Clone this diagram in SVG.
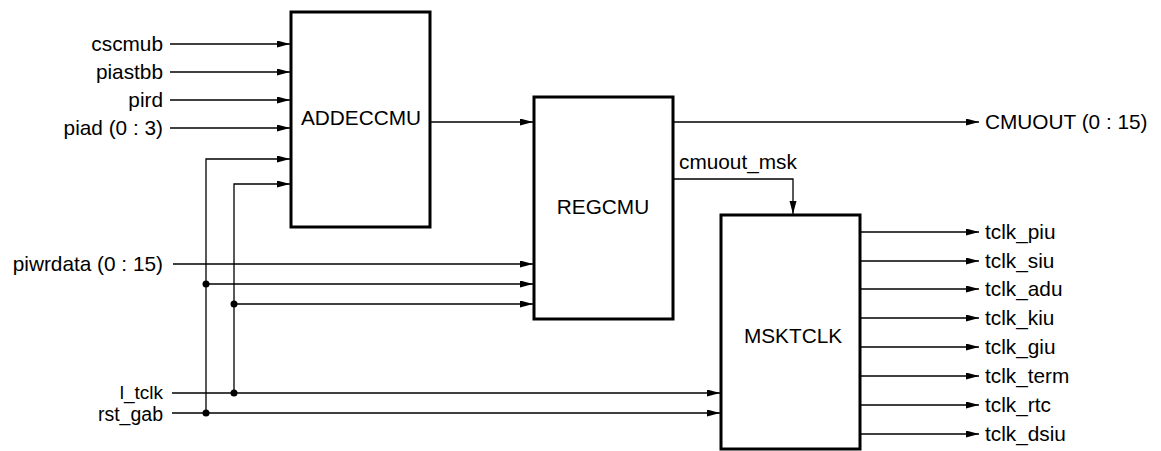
<svg xmlns="http://www.w3.org/2000/svg" width="1161" height="451" viewBox="0 0 1161 451">
<defs>
<style>
.box{fill:#fff;stroke:#000;stroke-width:3}
.w{fill:none;stroke:#000;stroke-width:1.3}
.a{marker-end:url(#ah)}
text{font-family:"Liberation Sans",Arial,Helvetica,sans-serif;font-size:20.8px;fill:#000}
.r{text-anchor:end}
.c{text-anchor:middle}
.dot{fill:#000}
</style>
<marker id="ah" markerUnits="userSpaceOnUse" markerWidth="14" markerHeight="8" refX="13" refY="3.5" orient="auto">
<path d="M0,0 L13,3.5 L0,7 z" fill="#000"/>
</marker>
</defs>
<rect width="1161" height="451" fill="#fff"/>
<g id="connectors">
<path class="w a" d="M170,44 H290"/>
<path class="w a" d="M170,72 H290"/>
<path class="w a" d="M170,100 H290"/>
<path class="w a" d="M170,128 H290"/>
<path class="w a" d="M206,413 V159 H290"/>
<path class="w a" d="M234,393 V184 H290"/>
<path class="w a" d="M173,264 H533"/>
<path class="w a" d="M206,284 H533"/>
<path class="w a" d="M234,304 H533"/>
<path class="w a" d="M172,393 H720"/>
<path class="w a" d="M172,413 H720"/>
<path class="w a" d="M430,122 H533"/>
<path class="w a" d="M673,122 H979"/>
<path class="w a" d="M673,179 H793 V214"/>
<path class="w a" d="M860,232 H979"/>
<path class="w a" d="M860,261 H979"/>
<path class="w a" d="M860,289 H979"/>
<path class="w a" d="M860,318 H979"/>
<path class="w a" d="M860,347 H979"/>
<path class="w a" d="M860,376 H979"/>
<path class="w a" d="M860,405 H979"/>
<path class="w a" d="M860,434 H979"/>
<circle class="dot" cx="206" cy="284" r="3.5"/>
<circle class="dot" cx="206" cy="413" r="3.5"/>
<circle class="dot" cx="234" cy="304" r="3.5"/>
<circle class="dot" cx="234" cy="393" r="3.5"/>
</g>
<g id="labels">
<text class="r" x="163" y="51">cscmub</text>
<text class="r" x="163" y="79">piastbb</text>
<text class="r" x="163" y="107">pird</text>
<text class="r" x="163" y="135">piad (0 : 3)</text>
<text class="r" x="163" y="271">piwrdata (0 : 15)</text>
<text class="r" x="163" y="399" style="font-size:19px">l_tclk</text>
<text class="r" x="163" y="421" style="font-size:19.5px">rst_gab</text>
<text x="985" y="129">CMUOUT (0 : 15)</text>
<text x="679" y="169">cmuout_msk</text>
<text x="985" y="239">tclk_piu</text>
<text x="985" y="268">tclk_siu</text>
<text x="985" y="296">tclk_adu</text>
<text x="985" y="325">tclk_kiu</text>
<text x="985" y="354">tclk_giu</text>
<text x="985" y="383">tclk_term</text>
<text x="985" y="412">tclk_rtc</text>
<text x="985" y="441">tclk_dsiu</text>
</g>
<g id="ADDECCMU">
<rect class="box" x="291" y="12" width="139" height="215"/>
<text class="c" x="361" y="125">ADDECCMU</text>
</g>
<g id="REGCMU">
<rect class="box" x="534" y="97" width="139" height="222"/>
<text class="c" x="603" y="214">REGCMU</text>
</g>
<g id="MSKTCLK">
<rect class="box" x="721" y="215" width="139" height="234"/>
<text class="c" x="793" y="343">MSKTCLK</text>
</g>
</svg>
